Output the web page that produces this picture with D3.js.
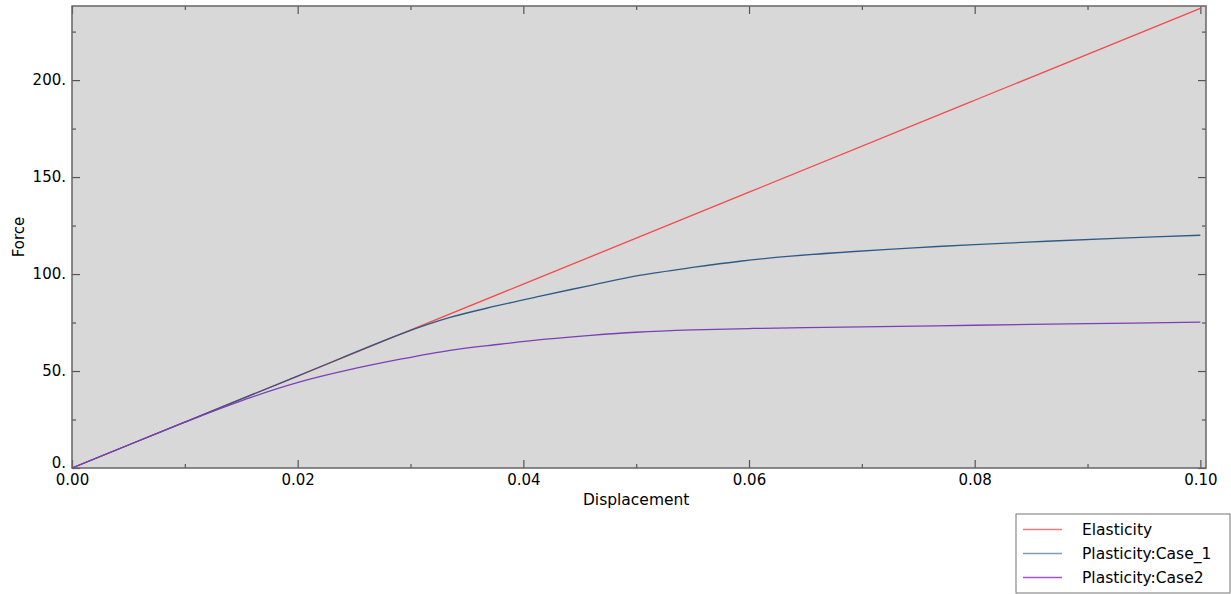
<!DOCTYPE html>
<html>
<head>
<meta charset="utf-8">
<script src="https://cdn.jsdelivr.net/npm/d3@7"></script>
<style>
  body { margin: 0; background: #fff; }
  text { font-family: "DejaVu Sans", sans-serif; fill: #000; }
</style>
</head>
<body>
<div id="chart"></div>
<script>
// data
var seriesNames = ["Elasticity", "Plasticity:Case_1", "Plasticity:Case2"];
var elasticX = [0, 0.02, 0.04, 0.06, 0.08, 0.10];
var elasticY = [0, 47.4, 94.8, 142.2, 189.6, 237.0];
var case1X = [0, 0.01, 0.02, 0.0293, 0.0335, 0.0375, 0.0415, 0.046, 0.0504, 0.055, 0.0592, 0.0637, 0.069, 0.0746, 0.08, 0.0864, 0.093, 0.10];
var case1Y = [0, 23.7, 47.4, 69.4, 77.6, 83.4, 88.6, 94.2, 99.4, 103.4, 106.6, 109.2, 111.5, 113.5, 115.2, 116.9, 118.5, 120.0];
var case2X = [0, 0.005, 0.01, 0.0114, 0.0158, 0.0202, 0.0246, 0.0291, 0.0335, 0.0379, 0.042, 0.046, 0.05, 0.055, 0.06, 0.065, 0.07, 0.08, 0.09, 0.10];
var case2Y = [0, 11.85, 23.6, 26.8, 36.3, 44.4, 50.7, 56.1, 60.7, 63.8, 66.4, 68.4, 70.0, 71.2, 71.9, 72.4, 72.8, 73.6, 74.4, 75.2];
var xMajor = [0, 0.02, 0.04, 0.06, 0.08, 0.10];
var xMinor = [0.01, 0.03, 0.05, 0.07, 0.09];
var yMajor = [0, 50, 100, 150, 200];
var yMinor = [25, 75, 125, 175, 225];
var colors = ["#f24a4a", "#2f5a85", "#7d3fb5"];
var legendColors = ["#f47a7a", "#7f9cba", "#a450e6"];

var W = 1231, H = 594;
var margin = { top: 6, right: 25, bottom: 126, left: 72 };
var width = W - margin.left - margin.right;
var height = H - margin.top - margin.bottom;

var svg = d3.select("#chart").append("svg")
  .attr("width", W).attr("height", H);
var g = svg.append("g")
  .attr("transform", "translate(" + margin.left + "," + margin.top + ")");

var x = d3.scaleLinear().domain([0, 0.1005]).range([0, width]);
var y = d3.scaleLinear().domain([0, 238.2]).range([height, 0]);

g.append("rect").attr("width", width).attr("height", height).attr("fill", "#d8d8d8");

function styleAxis(sel) {
  sel.select(".domain").remove();
  sel.selectAll(".tick line").attr("stroke", "#555").attr("stroke-width", 1.2);
  sel.selectAll("text").style("font-size", "15px").attr("fill", "#000");
}

// bottom axis with labels
g.append("g").attr("transform", "translate(0," + height + ")")
  .call(d3.axisBottom(x).tickValues(xMajor).tickSize(-8).tickPadding(6).tickFormat(d3.format(".2f")))
  .call(styleAxis);
g.append("g").attr("transform", "translate(0," + height + ")")
  .call(d3.axisBottom(x).tickValues(xMinor).tickSize(-4).tickFormat(""))
  .call(styleAxis);
// top ticks
g.append("g")
  .call(d3.axisTop(x).tickValues(xMajor).tickSize(-8).tickFormat(""))
  .call(styleAxis);
g.append("g")
  .call(d3.axisTop(x).tickValues(xMinor).tickSize(-4).tickFormat(""))
  .call(styleAxis);

// left axis with labels
var yAx = g.append("g")
  .call(d3.axisLeft(y).tickValues(yMajor).tickSize(-8).tickPadding(6).tickFormat(function (d) { return d + "."; }))
  .call(styleAxis);
yAx.selectAll(".tick text").filter(function (d) { return d === 0; }).attr("dy", "-0.05em");
g.append("g")
  .call(d3.axisLeft(y).tickValues(yMinor).tickSize(-4).tickFormat(""))
  .call(styleAxis);
// right ticks
g.append("g").attr("transform", "translate(" + width + ",0)")
  .call(d3.axisRight(y).tickValues(yMajor).tickSize(-8).tickFormat(""))
  .call(styleAxis);
g.append("g").attr("transform", "translate(" + width + ",0)")
  .call(d3.axisRight(y).tickValues(yMinor).tickSize(-4).tickFormat(""))
  .call(styleAxis);

// frame
g.append("rect").attr("width", width).attr("height", height)
  .attr("fill", "none").attr("stroke", "#666").attr("stroke-width", 1.5);

// lines
var line = d3.line()
  .x(function (d) { return x(d[0]); })
  .y(function (d) { return y(d[1]); })
  .curve(d3.curveCatmullRom.alpha(0.5));

var series = [
  d3.zip(elasticX, elasticY),
  d3.zip(case1X, case1Y),
  d3.zip(case2X, case2Y)
];
series.forEach(function (s, i) {
  g.append("path").datum(s)
    .attr("fill", "none")
    .attr("stroke", colors[i])
    .attr("stroke-width", 1.3)
    .attr("d", line);
});

// axis titles
svg.append("text")
  .attr("x", margin.left + x(0.05)).attr("y", 505)
  .attr("text-anchor", "middle").style("font-size", "15.5px")
  .text("Displacement");
svg.append("text")
  .attr("transform", "translate(24," + (margin.top + height / 2) + ") rotate(-90)")
  .attr("text-anchor", "middle").style("font-size", "15px")
  .text("Force");

// legend
var leg = svg.append("g").attr("transform", "translate(1016,514)");
leg.append("rect").attr("width", 214).attr("height", 79)
  .attr("fill", "#fff").attr("stroke", "#777").attr("stroke-width", 1);
seriesNames.forEach(function (name, i) {
  var ly = 15.5 + i * 24;
  leg.append("line").attr("x1", 7).attr("x2", 46).attr("y1", ly).attr("y2", ly)
    .attr("stroke", legendColors[i]).attr("stroke-width", 1.3);
  leg.append("text").attr("x", 66).attr("y", ly).attr("dy", "0.35em")
    .style("font-size", "15.5px").text(name);
});
</script>
</body>
</html>
